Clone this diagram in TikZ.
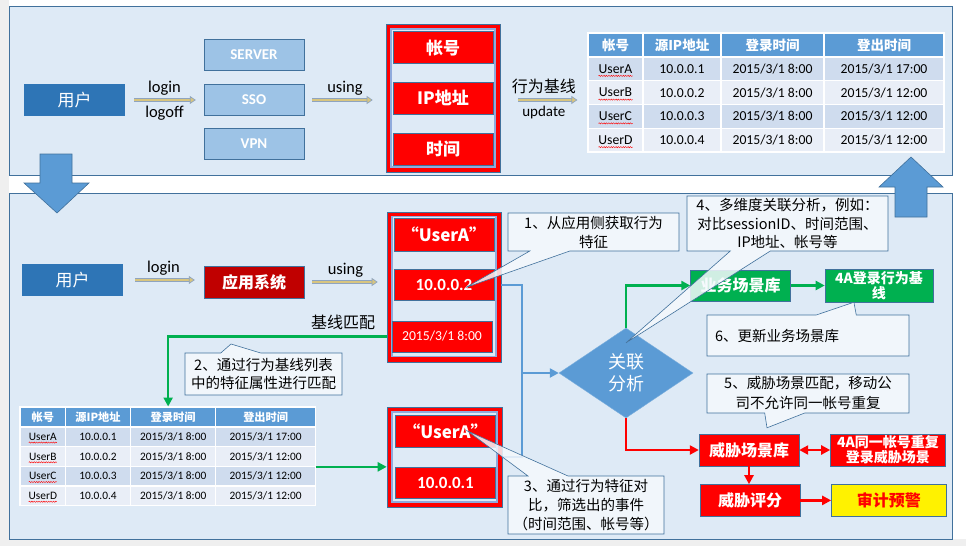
\documentclass[tikz,border=0pt]{standalone}
\usepackage{fontspec}
\setmainfont{Carlito}
\newfontfamily\cjk{Noto Sans CJK SC}
\usetikzlibrary{positioning,shapes.geometric,shapes.callouts,arrows.meta,decorations.pathmorphing}

\definecolor{panelfill}{HTML}{DEEAF6}
\definecolor{boxline}{HTML}{41719C}
\definecolor{userblue}{HTML}{2E75B6}
\definecolor{lightblue}{HTML}{9DC3E6}
\definecolor{darkred}{HTML}{C00000}
\definecolor{okgreen}{HTML}{00B050}
\definecolor{midblue}{HTML}{5B9BD5}
\definecolor{rowa}{HTML}{CFDCEE}
\definecolor{rowb}{HTML}{E9EEF7}
\definecolor{notefill}{HTML}{F5F9FD}
\definecolor{khaki}{HTML}{D8C57F}
\definecolor{arrline}{HTML}{8EA4C0}
\definecolor{innerline}{HTML}{8FAADC}
\definecolor{bggrey}{HTML}{EFEFEF}

\tikzset{
  panel/.style={draw=boxline, fill=panelfill, line width=0.8pt},
  bigarrow/.style={fill=midblue, draw=boxline, line width=0.6pt},
  userbox/.style={fill=userblue, text=white, minimum width=101pt, minimum height=32pt, inner sep=0pt, font=\cjk\fontsize{17}{17}\selectfont},
  entrybox/.style={draw=boxline, fill=lightblue, text=white, minimum width=100pt, minimum height=31pt, inner sep=0pt, font=\bfseries\fontsize{15}{15}\selectfont},
  redbox/.style={draw=boxline, fill=red, text=white, minimum width=100pt, minimum height=32pt, inner sep=0pt, font=\cjk\bfseries\fontsize{17}{17}\selectfont},
  flowbox/.style={draw=boxline, text=white, minimum width=100pt, minimum height=32pt, inner sep=1pt, align=center, font=\cjk\bfseries\fontsize{16}{16}\selectfont},
  frameout/.style={draw=boxline, fill=red, line width=0.6pt},
  framein/.style={draw=innerline, fill=panelfill, line width=1.2pt},
  headcell/.style={fill=midblue, draw=white, line width=1.2pt, text=white, minimum height=24, inner sep=0pt, font=\cjk\bfseries\fontsize{13.5}{14}\selectfont},
  datacell/.style={draw=white, line width=1.2pt, minimum height=23.75, inner sep=0pt, font=\fontsize{13.7}{14}\selectfont},
  squig/.style={draw=red, line width=0.4pt, decorate, decoration={snake, amplitude=0.6pt, segment length=2.4pt}},
  usearr/.style={draw=arrline, line width=0.7pt, double=khaki, double distance=2.6pt, -{Triangle[length=6pt,width=8pt,fill=khaki]}},
  greenarr/.style={draw=okgreen, line width=2.6pt, -{Triangle[length=9pt,width=9pt]}},
  redarr/.style={draw=red, line width=2.6pt, -{Triangle[length=9pt,width=9pt]}},
  bluearr/.style={draw=midblue, line width=2.6pt},
  lbl/.style={font=\fontsize{16.5}{17}\selectfont},
  cnlbl/.style={font=\cjk\fontsize{16}{17}\selectfont},
  note/.style={rectangle callout, draw=boxline, fill=notefill, fill opacity=0.85, text opacity=1, line width=0.6pt, inner sep=2pt, align=center, callout pointer width=40pt, font=\cjk\fontsize{14.5}{19}\selectfont}
}

% baseline table, drawn from its top left corner
\newcommand\logtable[1]{%
  \foreach \xa/\xb/\hd [count=\c] in {0/55/帐号,55/133/源IP地址,133/236/登录时间,236/356/登出时间}
    \node[headcell, minimum width={\xb-\xa}] (#1-0-\c) at ({(\xa+\xb)/2},12) {\hd};
  \foreach \u/\ip/\hr/\rc [count=\r] in {A/1/17/rowa,B/2/12/rowb,C/3/12/rowa,D/4/12/rowb}{
    \pgfmathsetmacro\yc{24+(\r-0.5)*23.75}
    \node[datacell, fill=\rc, minimum width=55] (#1-\r-1) at (27.5,\yc) {User\u};
    \node[datacell, fill=\rc, minimum width=78] (#1-\r-2) at (94,\yc) {10.0.0.\ip};
    \node[datacell, fill=\rc, minimum width=103] (#1-\r-3) at (184.5,\yc) {2015/3/1 8:00};
    \node[datacell, fill=\rc, minimum width=120] (#1-\r-4) at (296,\yc) {2015/3/1 \hr:00};
    \draw[squig] (10.5,\yc+7) -- (44.5,\yc+7);
  }%
}

\begin{document}
\begin{tikzpicture}[x=1pt,y=-1pt]
\useasboundingbox (0,0) rectangle (966,546);
\fill[white] (0,0) rectangle (966,546);
\fill[bggrey] (0,0) rectangle (9,546);
\fill[bggrey] (0,539) rectangle (966,546);

% panels
\draw[panel] (9,6) rectangle (952,175);
\draw[panel] (9,193) rectangle (952,539);
\draw[bigarrow] (40,154) -- (72,154) -- (72,183) -- (89,183) -- (57,213) -- (24,183) -- (40,183) -- cycle;
\draw[bigarrow] (895,217) -- (895,187) -- (879,187) -- (911,157) -- (943,187) -- (927,187) -- (927,217) -- cycle;

% top: login baseline
\node[userbox] (u1) at (74.5,100) {用户};
\node[entrybox] (sso) at (254,100) {SSO};
\node[entrybox, above=14pt of sso] (server) {SERVER};
\node[entrybox, below=12pt of sso] (vpn) {VPN};
\node[frameout, minimum width=114pt, minimum height=148pt] (f1) at (443,98) {};
\node[framein, minimum width=104pt, minimum height=138pt] (f1i) at (f1) {};
\node[redbox] (ip1) at (f1) {IP地址};
\node[redbox, above=18pt of ip1] (acc1) {帐号};
\node[redbox, below=19pt of ip1] (time1) {时间};
\begin{scope}[shift={(588,33)}]
  \logtable{ta}
\end{scope}

\draw[usearr, shorten <=9pt, shorten >=8pt] (u1) -- (sso)
  node[midway, above=1pt, lbl] {login} node[midway, below=2pt, lbl] {logoff};
\draw[usearr, shorten <=8pt, shorten >=13pt] (sso.east) -- (sso.east -| f1.west)
  node[midway, above=1pt, lbl] {using};
\draw[usearr, shorten <=18pt, shorten >=10pt] (f1.east |- sso) -- (ta-2-1.west |- sso)
  node[midway, above=2pt, cnlbl] {行为基线} node[midway, below=2pt, font=\fontsize{15}{15}\selectfont] {update};

% bottom: event matching
\node[userbox] (u2) at (72.5,280) {用户};
\node[flowbox, fill=darkred] (app) at (254,282) {应用系统};
\node[frameout, minimum width=114pt, minimum height=150pt] (f2) at (444,287) {};
\node[framein, minimum width=104pt, minimum height=140pt] (f2i) at (444,286.5) {};
\node[redbox, minimum height=33pt] (ua2) at (444,234.5) {“UserA”};
\node[redbox, below=18pt of ua2, minimum height=31pt, font=\bfseries\fontsize{17}{17}\selectfont] (ip2) {10.0.0.2};
\node[redbox, below=20pt of ip2, xshift=-2pt, minimum height=31pt, font=\fontsize{13.7}{14}\selectfont] (dt2) {2015/3/1 8:00};
\draw[squig] ([xshift=-19pt,yshift=-9pt]ua2.center) -- ([xshift=19pt,yshift=-9pt]ua2.center);
\node[cnlbl] (match) at (343,322) {基线匹配};

\begin{scope}[shift={(20,407)}, scale=0.83, transform shape]
  \logtable{tb}
\end{scope}

\node[frameout, minimum width=115pt, minimum height=100pt] (f3) at (444.5,457) {};
\node[framein, minimum width=105pt, minimum height=90pt] (f3i) at (f3) {};
\node[redbox] (ua3) at (445.5,431) {“UserA”};
\node[redbox, below=20pt of ua3, minimum height=31pt, font=\bfseries\fontsize{17}{17}\selectfont] (ip3) {10.0.0.1};
\draw[squig] ([xshift=-19pt,yshift=-9pt]ua3.center) -- ([xshift=19pt,yshift=-9pt]ua3.center);

\node[diamond, fill=midblue, draw=midblue!80!white, minimum width=134pt, minimum height=90pt, inner sep=0pt, text=white, align=center, font=\cjk\fontsize{18}{22}\selectfont] (ana) at (626,373) {关联\\分析};
\node[flowbox, fill=okgreen, minimum height=31pt] (biz) at (740.5,285.5) {业务场景库};
\node[flowbox, fill=okgreen, right=34pt of biz, minimum width=108pt, minimum height=33pt, font=\cjk\bfseries\fontsize{14}{15}\selectfont] (base4a) {4A登录行为基\\线};
\node[flowbox, fill=red] (thr) at (749,450) {威胁场景库};
\node[flowbox, fill=red, right=31pt of thr, minimum width=115pt, font=\cjk\bfseries\fontsize{14}{15}\selectfont] (t4a) {4A同一帐号重复\\登录威胁场景};
\node[flowbox, fill=red, below=18pt of thr, xshift=1pt] (score) {威胁评分};
\node[flowbox, fill=yellow, right=31pt of score, minimum width=115pt, text=red] (alert) {审计预警};

\draw[usearr, shorten <=12pt, shorten >=9pt] (u2.east) -- (u2.east -| app.west)
  node[midway, above=1pt, lbl] {login};
\draw[usearr, shorten <=8pt, shorten >=9pt] (app.east) -- (app.east -| f2.west)
  node[midway, above=1pt, lbl] {using};
\draw[greenarr] (f2.west |- dt2) -| ([xshift=-5pt]tb-0-3.north);
\draw[greenarr] (tb-2-4.south east) -- (f3.west |- tb-2-4.south east);
\coordinate (bj) at ([xshift=-37pt]ana.west);
\draw[bluearr] (f2.east |- ip2) -| (bj) |- (f3.east);
\draw[bluearr, -{Triangle[length=9pt,width=9pt]}] (bj) -- (ana.west);
\draw[greenarr] (ana.north) |- (biz.west);
\draw[greenarr] (biz.east) -- (biz.east -| base4a.west);
\draw[redarr] (ana.south) |- (thr.west);
\draw[redarr, {Triangle[length=9pt,width=9pt]}-{Triangle[length=9pt,width=9pt]}] (thr) -- (t4a);
\draw[redarr] (thr.south) -- (thr.south |- score.north);
\draw[redarr] (score) -- (alert);

% notes
\coordinate (tip1) at ([xshift=22pt,yshift=-2.5pt]ip2.center);
\coordinate (tip2) at (231,344);
\coordinate (tip3) at ([xshift=22pt]ua3.center);
\coordinate (tip4) at ([yshift=-15pt]ana.north);
\coordinate (tip5) at ([xshift=18pt,yshift=6pt]thr.north);
\coordinate (tip6) at ([xshift=-25pt]base4a.south);
\node[note, minimum width=171pt, minimum height=38pt, callout absolute pointer={(tip1)}] (n1) at (593.5,232) {1、从应用侧获取行为\\特征};
\node[note, minimum width=157pt, minimum height=42pt, callout absolute pointer={(tip2)}, font=\cjk\fontsize{14.5}{18}\selectfont] (n2) at (263.5,374) {2、通过行为基线列表\\中的特征属性进行匹配};
\node[note, minimum width=156pt, minimum height=58pt, callout absolute pointer={(tip3)}] (n3) at (586,505) {3、通过行为特征对\\比，筛选出的事件\\（时间范围、帐号等）};
\node[note, minimum width=201pt, minimum height=55pt, callout absolute pointer={(tip4)}, font=\cjk\fontsize{14.5}{18.5}\selectfont] (n4) at (787.5,223.5) {4、多维度关联分析，例如：\\对比sessionID、时间范围、\\IP地址、帐号等};
\node[note, minimum width=202pt, minimum height=39pt, callout absolute pointer={(tip5)}, font=\cjk\fontsize{14.5}{20}\selectfont] (n5) at (808,393.5) {5、威胁场景匹配，移动公\\司不允许同一帐号重复};
\node[note, minimum width=202pt, minimum height=41pt, callout absolute pointer={(tip6)}, text width=186pt, inner xsep=8pt, align=left] (n6) at (808,335.5) {6、更新业务场景库};
\end{tikzpicture}
\end{document}
